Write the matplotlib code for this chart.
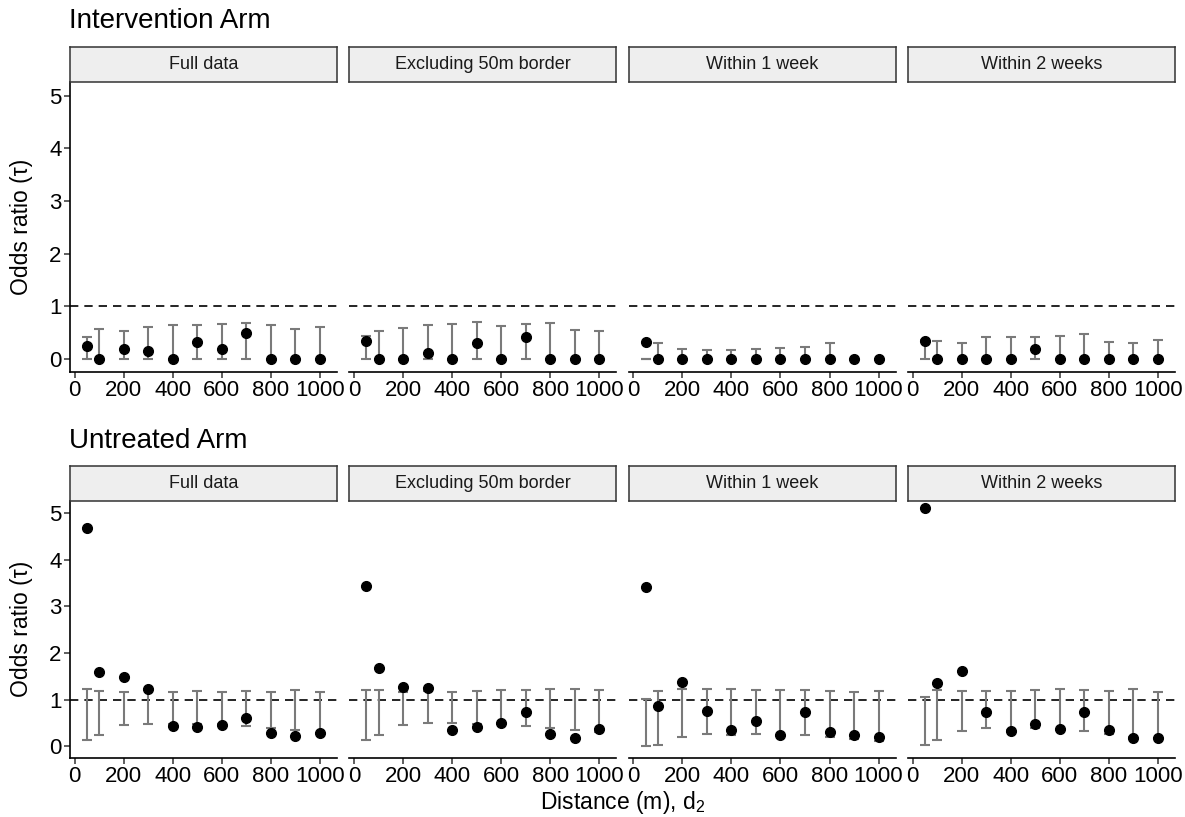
import matplotlib
matplotlib.use("Agg")
import matplotlib.pyplot as plt
import numpy as np

plt.rcParams['font.family'] = ['Liberation Sans', 'DejaVu Sans']
plt.rcParams['mathtext.fontset'] = 'custom'
plt.rcParams['mathtext.rm'] = 'Liberation Sans'

distance = [50, 100, 200, 300, 400, 500, 600, 700, 800, 900, 1000]
facets = ["Full data", "Excluding 50m border", "Within 1 week", "Within 2 weeks"]
arms = ["Intervention Arm", "Untreated Arm"]
x_ticks = [0, 200, 400, 600, 800, 1000]
y_ticks = [0, 1, 2, 3, 4, 5]

# Intervention arm: estimate, lower, upper
int_full_est = [0.25, 0, 0.19, 0.15, 0, 0.32, 0.19, 0.49, 0, 0, 0]
int_full_lo = [0, 0, 0, 0, 0, 0, 0, 0, 0, 0, 0]
int_full_hi = [0.41, 0.57, 0.54, 0.61, 0.65, 0.65, 0.67, 0.68, 0.65, 0.57, 0.60]

int_excl_est = [0.34, 0, 0, 0.12, 0, 0.31, 0, 0.42, 0, 0, 0]
int_excl_lo = [0, 0, 0, 0, 0, 0, 0, 0, 0, 0, 0]
int_excl_hi = [0.43, 0.54, 0.59, 0.64, 0.66, 0.70, 0.62, 0.67, 0.69, 0.56, 0.53]

int_w1_est = [0.32, 0, 0, 0, 0, 0, 0, 0, 0, 0, 0]
int_w1_lo = [0, 0, 0, 0, 0, 0, 0, 0, 0, 0, 0]
int_w1_hi = [0, 0.30, 0.20, 0.18, 0.17, 0.19, 0.21, 0.23, 0.31, 0, 0]

int_w2_est = [0.35, 0, 0, 0, 0, 0.19, 0, 0, 0, 0, 0]
int_w2_lo = [0, 0, 0, 0, 0, 0, 0, 0, 0, 0, 0]
int_w2_hi = [0.36, 0.34, 0.30, 0.42, 0.41, 0.41, 0.43, 0.47, 0.32, 0.30, 0.36]

# Untreated arm
unt_full_est = [4.69, 1.59, 1.49, 1.23, 0.43, 0.42, 0.46, 0.61, 0.29, 0.22, 0.29]
unt_full_lo = [0.14, 0.24, 0.46, 0.49, 0.48, 0.49, 0.48, 0.44, 0.40, 0.35, 0.28]
unt_full_hi = [1.23, 1.19, 1.16, 1.21, 1.17, 1.18, 1.16, 1.19, 1.17, 1.22, 1.16]

unt_excl_est = [3.43, 1.69, 1.28, 1.26, 0.35, 0.41, 0.50, 0.73, 0.27, 0.18, 0.38]
unt_excl_lo = [0.14, 0.25, 0.45, 0.51, 0.51, 0.48, 0.49, 0.44, 0.39, 0.36, 0.31]
unt_excl_hi = [1.21, 1.20, 1.17, 1.19, 1.17, 1.18, 1.21, 1.21, 1.24, 1.23, 1.21]

unt_w1_est = [3.41, 0.86, 1.39, 0.76, 0.36, 0.54, 0.24, 0.74, 0.30, 0.24, 0.20]
unt_w1_lo = [0.01, 0.04, 0.21, 0.26, 0.25, 0.27, 0.24, 0.24, 0.21, 0.16, 0.11]
unt_w1_hi = [1.01, 1.18, 1.24, 1.24, 1.23, 1.21, 1.21, 1.22, 1.19, 1.16, 1.18]

unt_w2_est = [5.12, 1.37, 1.61, 0.74, 0.34, 0.48, 0.37, 0.74, 0.36, 0.19, 0.18]
unt_w2_lo = [0.04, 0.14, 0.33, 0.39, 0.36, 0.39, 0.36, 0.33, 0.26, 0.21, 0.18]
unt_w2_hi = [1.06, 1.21, 1.19, 1.18, 1.19, 1.20, 1.23, 1.22, 1.19, 1.24, 1.17]

data = [
    [(int_full_est, int_full_lo, int_full_hi), (int_excl_est, int_excl_lo, int_excl_hi),
     (int_w1_est, int_w1_lo, int_w1_hi), (int_w2_est, int_w2_lo, int_w2_hi)],
    [(unt_full_est, unt_full_lo, unt_full_hi), (unt_excl_est, unt_excl_lo, unt_excl_hi),
     (unt_w1_est, unt_w1_lo, unt_w1_hi), (unt_w2_est, unt_w2_lo, unt_w2_hi)],
]

W, H = 1185, 817
fig = plt.figure(figsize=(W / 100, H / 100), dpi=100)


def rect(x0, y0, x1, y1):
    return [x0 / W, 1 - y1 / H, (x1 - x0) / W, (y1 - y0) / H]


panel_x = [70, 349.3, 628.6, 907.9]
panel_w = 267
rows = [  # title baseline, strip top, plot top, plot bottom
    (28.5, 47, 82, 371.7),
    (447.5, 465.7, 501, 757.7),
]

for r, (tb, st, pt, pb) in enumerate(rows):
    fig.text(69 / W, 1 - tb / H, arms[r], fontsize=20, ha='left', va='baseline', color='black')
    for c in range(4):
        x0 = panel_x[c]
        ax = fig.add_axes(rect(x0, pt, x0 + panel_w, pb))
        est, lo, hi = data[r][c]
        ax.axhline(1, color='black', lw=1.2, ls=(0, (5.0, 3.6)), zorder=1)
        ax.vlines(distance, lo, hi, color='#7a7a7a', lw=1.5, zorder=2)
        ax.plot(distance, lo, ls='none', marker='_', ms=7.2, mew=1.5, color='#7a7a7a', zorder=2)
        ax.plot(distance, hi, ls='none', marker='_', ms=7.2, mew=1.5, color='#7a7a7a', zorder=2)
        ax.plot(distance, est, ls='none', marker='o', ms=7.0, color='black', mec='black', zorder=3)
        ax.set_xlim(-19.5, 1069.5)
        ax.set_ylim(-0.24, 5.26)
        ax.set_xticks(x_ticks)
        ax.set_xticklabels([str(t) for t in x_ticks])
        ax.set_yticks(y_ticks)
        for s in ['top', 'right']:
            ax.spines[s].set_visible(False)
        ax.spines['bottom'].set_linewidth(1.2)
        ax.spines['left'].set_linewidth(1.2)
        ax.tick_params(axis='both', labelsize=16, length=4, width=1.1, color='#333333',
                       labelcolor='black', pad=2)
        if c == 0:
            ax.set_yticklabels([str(t) for t in y_ticks])
            ax.set_ylabel("Odds ratio (τ)", fontsize=16.5)
            ax.yaxis.set_label_coords(-(70 - 33) / panel_w, 0.5)
        else:
            ax.spines['left'].set_visible(False)
            ax.tick_params(axis='y', left=False, labelleft=False)
        ax.patch.set_alpha(0)
        # strip
        sax = fig.add_axes(rect(x0, st, x0 + panel_w, pt))
        sax.set_facecolor('#eeeeee')
        sax.set_xticks([])
        sax.set_yticks([])
        for s in sax.spines.values():
            s.set_color('#333333')
            s.set_linewidth(1.1)
        sax.text(0.5, 0.5, facets[c], transform=sax.transAxes, ha='center', va='center',
                 fontsize=13, color='#1a1a1a')

fig.text(622.5 / W, 1 - 809.5 / H, "Distance (m), $\\mathregular{d_2}$", fontsize=16.5,
         ha='center', va='baseline')

fig.savefig("out.png", dpi=100)
